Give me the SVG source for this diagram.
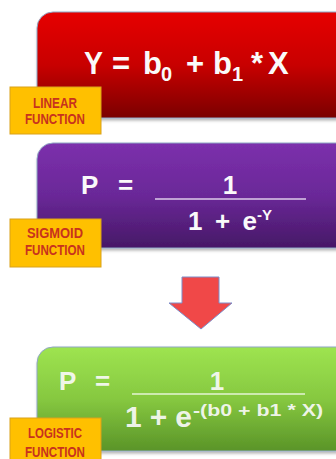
<svg xmlns="http://www.w3.org/2000/svg" width="336" height="459" viewBox="0 0 336 459">
<defs>
<linearGradient id="gRed" x1="0" y1="0" x2="0" y2="1">
<stop offset="0" stop-color="#E60000"/><stop offset="0.5" stop-color="#C80000"/><stop offset="1" stop-color="#7A0000"/>
</linearGradient>
<linearGradient id="gPurple" x1="0" y1="0" x2="0" y2="1">
<stop offset="0" stop-color="#7C30AC"/><stop offset="0.5" stop-color="#6A2898"/><stop offset="1" stop-color="#461866"/>
</linearGradient>
<linearGradient id="gGreen" x1="0" y1="0" x2="0" y2="1">
<stop offset="0" stop-color="#9EE450"/><stop offset="0.5" stop-color="#86C840"/><stop offset="1" stop-color="#5A9428"/>
</linearGradient>
<filter id="sh" x="-10%" y="-10%" width="130%" height="140%">
<feDropShadow dx="1" dy="2" stdDeviation="1.5" flood-color="#000" flood-opacity="0.3"/>
</filter>
<style>
.box{stroke:#8FA6C4;stroke-width:1;filter:url(#sh)}
.lab{fill:#FFC000;stroke:#D9A21B;stroke-width:1}
.lt{font-family:"Liberation Sans",Arial,sans-serif;font-weight:bold;font-size:14px;fill:#C8321E;text-anchor:middle}
.f{font-family:"Liberation Sans",Arial,sans-serif;font-weight:bold;fill:#FAFAFA}
</style>
</defs>

<g id="linear">
<rect class="box" x="37" y="12" width="330" height="106" rx="16" fill="url(#gRed)"/>
<text class="f" font-size="31" y="74"><tspan x="84" textLength="19" lengthAdjust="spacingAndGlyphs">Y</tspan><tspan x="112">=</tspan><tspan x="143">b</tspan><tspan x="186">+</tspan><tspan x="213">b</tspan><tspan x="251">*</tspan><tspan x="268">X</tspan></text>
<text class="f" font-size="20" y="81"><tspan x="161">0</tspan><tspan x="232">1</tspan></text>
</g>
<g id="linear-label">
<rect class="lab" x="10" y="87" width="91" height="47"/>
<text class="lt" x="55" y="108" textLength="44" lengthAdjust="spacingAndGlyphs">LINEAR</text>
<text class="lt" x="55" y="124" textLength="60" lengthAdjust="spacingAndGlyphs">FUNCTION</text>
</g>

<g id="sigmoid">
<rect class="box" x="37" y="143" width="330" height="105" rx="16" fill="url(#gPurple)"/>
<text class="f" font-size="26" x="81" y="194">P</text>
<text class="f" font-size="26" x="118" y="194">=</text>
<text class="f" font-size="26" x="230" y="194" text-anchor="middle">1</text>
<line x1="155" y1="199" x2="306" y2="199" stroke="#DCCBEA" stroke-width="1.5"/>
<text class="f" font-size="26" x="188" y="230" textLength="69" lengthAdjust="spacing">1 + e</text>
<text class="f" font-size="15" x="257" y="220">-Y</text>
</g>
<g id="sigmoid-label">
<rect class="lab" x="10" y="219" width="91" height="48"/>
<text class="lt" x="55" y="238" textLength="56" lengthAdjust="spacingAndGlyphs">SIGMOID</text>
<text class="lt" x="55" y="255" textLength="60" lengthAdjust="spacingAndGlyphs">FUNCTION</text>
</g>

<g id="connectors">
<path d="M182,277 H219 V303 H232 L201,329 L169,303 H182 Z" fill="#F04848" stroke="#7C8CC8" stroke-width="1"/>
</g>

<g id="logistic">
<rect class="box" x="37" y="347" width="330" height="104" rx="16" fill="url(#gGreen)"/>
<text class="f" font-size="26" x="59" y="390" fill-opacity="0.92">P</text>
<text class="f" font-size="26" x="95" y="390" fill-opacity="0.92">=</text>
<text class="f" font-size="26" x="217" y="390" text-anchor="middle" fill-opacity="0.92">1</text>
<line x1="132" y1="394" x2="305" y2="394" stroke="#E4F4D4" stroke-width="1.5"/>
<text class="f" font-size="30" x="125" y="427" textLength="67" lengthAdjust="spacing" fill-opacity="0.92">1 + e</text>
<text class="f" font-size="17" x="193" y="416" textLength="130" lengthAdjust="spacingAndGlyphs" fill-opacity="0.92">-(b0 + b1 * X)</text>
</g>
<g id="logistic-label">
<rect class="lab" x="10" y="418" width="91" height="48"/>
<text class="lt" x="55" y="438" textLength="54" lengthAdjust="spacingAndGlyphs">LOGISTIC</text>
<text class="lt" x="55" y="457" textLength="60" lengthAdjust="spacingAndGlyphs">FUNCTION</text>
</g>
</svg>
